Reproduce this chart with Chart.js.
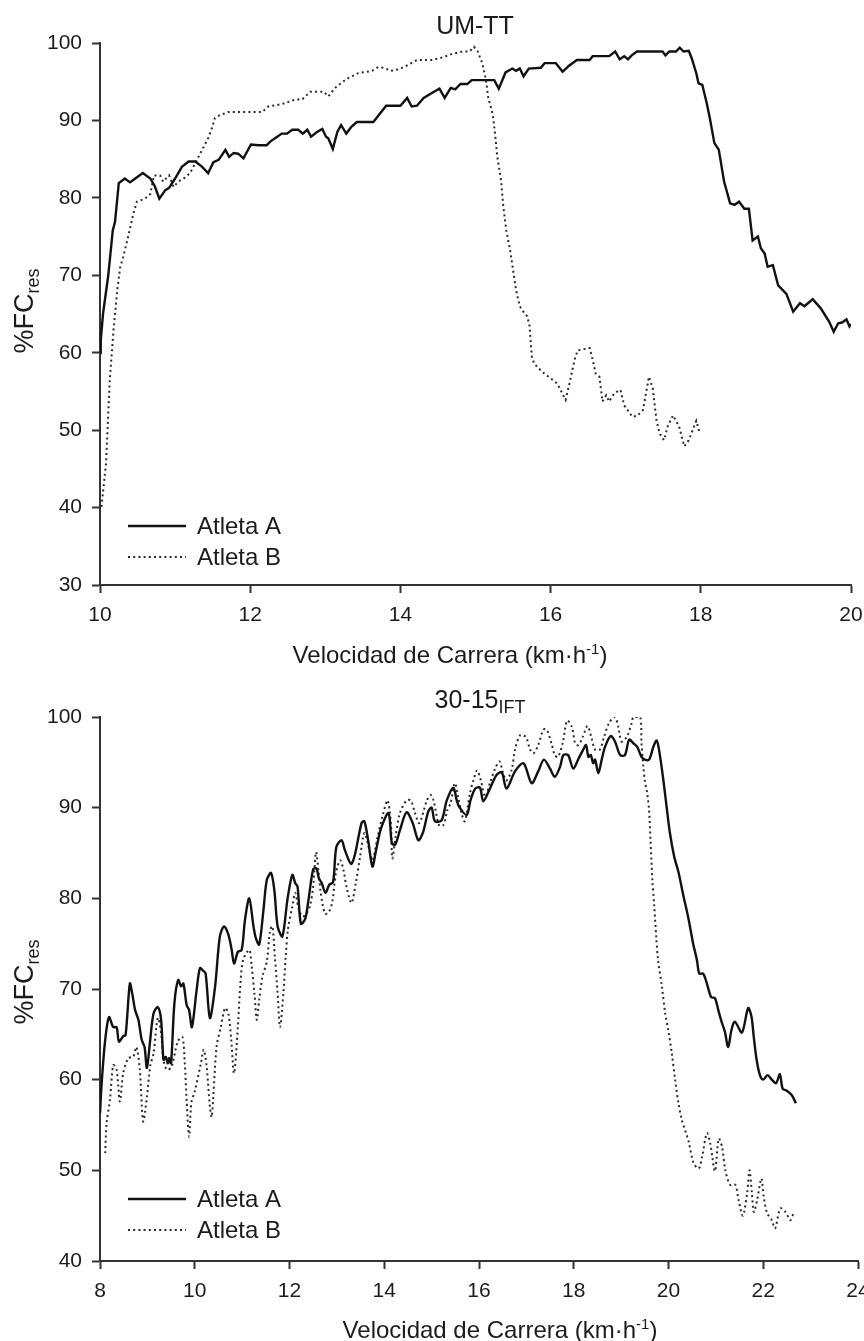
<!DOCTYPE html>
<html>
<head>
<meta charset="utf-8">
<script src="https://cdn.jsdelivr.net/npm/chart.js"></script>
<style>
  html, body { margin: 0; padding: 0; background: #fff; overflow: hidden; }
  canvas { display: block; }
</style>
</head>
<body>
<canvas id="umtt" width="900" height="670"></canvas>
<canvas id="ift" width="900" height="671"></canvas>
<script>
// UM-TT, athlete A
const umttSpeedA = [10.00,10.01,10.04,10.11,10.17,10.20,10.25,10.33,10.40,10.47,
  10.57,10.67,10.73,10.79,10.87,10.92,11.00,11.09,11.18,11.27,
  11.36,11.44,11.51,11.58,11.67,11.72,11.78,11.84,11.91,12.01,
  12.11,12.22,12.27,12.36,12.42,12.49,12.56,12.64,12.70,12.76,
  12.81,12.89,12.96,13.01,13.04,13.10,13.16,13.21,13.28,13.35,
  13.42,13.64,13.81,14.00,14.09,14.15,14.22,14.31,14.43,14.52,
  14.59,14.67,14.73,14.80,14.89,14.95,15.25,15.31,15.40,15.49,
  15.54,15.59,15.64,15.71,15.87,15.92,16.07,16.16,16.25,16.35,
  16.52,16.56,16.78,16.86,16.92,16.98,17.03,17.08,17.15,17.49,
  17.53,17.58,17.67,17.72,17.77,17.84,17.88,17.94,17.97,18.02,
  18.08,18.12,18.18,18.24,18.31,18.39,18.45,18.51,18.58,18.64,
  18.69,18.76,18.80,18.85,18.89,18.96,19.03,19.14,19.23,19.32,
  19.38,19.49,19.60,19.71,19.77,19.83,19.88,19.94,19.98,20.00];
const umttHrA = [60,61.6,65,70,75.8,76.9,81.9,82.5,82.0,82.5,
  83.2,82.5,81.5,79.9,81.0,81.3,82.5,84.0,84.7,84.7,
  84.0,83.2,84.6,84.9,86.2,85.3,85.8,85.7,85.1,86.9,
  86.8,86.8,87.3,87.9,88.3,88.3,88.8,88.8,88.3,88.8,
  87.9,88.5,88.9,87.9,87.7,86.3,88.5,89.4,88.3,89.2,
  89.8,89.8,91.9,91.9,92.9,91.8,91.9,92.9,93.6,94.1,
  92.9,94.2,94.0,94.7,94.7,95.2,95.2,94.1,96.2,96.7,
  96.4,96.7,95.7,96.7,96.8,97.4,97.4,96.3,97.1,97.8,
  97.8,98.3,98.3,98.9,97.9,98.3,97.9,98.4,98.9,98.9,
  98.4,98.9,98.9,99.4,98.9,99.0,98.0,96.1,94.8,94.6,
  92.2,90.3,87.1,86.2,82.1,79.3,79.1,79.5,78.6,78.6,
  74.5,75.0,73.5,72.8,71.1,71.3,68.7,67.6,65.3,66.4,
  66.0,66.9,65.7,64.0,62.7,63.8,63.9,64.3,63.4,63.7];

// UM-TT, athlete B
const umttSpeedB = [10.02,10.08,10.10,10.13,10.18,10.23,10.27,10.31,10.38,10.44,
  10.49,10.60,10.67,10.72,10.80,10.84,10.92,10.98,11.04,11.13,
  11.20,11.27,11.36,11.44,11.49,11.53,11.60,11.71,12.16,12.24,
  12.42,12.60,12.69,12.80,12.98,13.04,13.13,13.22,13.31,13.44,
  13.62,13.71,13.78,13.87,13.98,14.11,14.22,14.43,14.58,14.69,
  14.83,14.92,14.98,15.03,15.09,15.14,15.17,15.23,15.26,15.29,
  15.34,15.37,15.41,15.46,15.50,15.54,15.59,15.65,15.69,15.72,
  15.75,15.78,15.89,16.00,16.09,16.20,16.25,16.32,16.36,16.52,
  16.56,16.60,16.65,16.69,16.74,16.78,16.85,16.93,16.98,17.09,
  17.16,17.23,17.31,17.36,17.41,17.45,17.51,17.56,17.63,17.71,
  17.78,17.84,17.94,17.98];
const umttHrB = [40.1,45.7,50.0,56.5,62.9,68.1,71.1,72.4,75.2,77.8,
  79.5,79.9,80.5,82.9,82.9,82.1,82.9,81.4,82.1,82.6,
  83.2,84.5,86.2,87.7,89.0,90.3,90.7,91.1,91.1,91.8,
  92.1,92.7,92.7,93.7,93.7,93.1,94.2,94.9,95.5,96.1,
  96.4,96.9,96.8,96.4,96.6,97.2,97.8,97.8,98.2,98.6,
  98.9,98.9,99.5,98.9,97.4,95.2,92.9,90.8,88.3,85.3,
  82.3,78.9,75.8,73.3,70.7,68.1,66.0,65.1,64.7,63.4,
  59.5,58.6,57.5,56.7,56.0,53.9,56.0,59.1,60.3,60.6,
  59.1,57.3,56.9,53.7,54.5,53.7,54.8,55.2,53.2,51.7,
  51.9,52.6,56.9,55.4,51.3,49.6,48.7,50.5,51.9,50.5,
  47.9,48.7,51.2,49.8];

// 30-15 IFT, athlete A
const iftSpeedA = [8.00,8.04,8.11,8.19,8.28,8.35,8.40,8.49,8.54,8.63,
  8.68,8.74,8.81,8.88,8.94,8.99,9.06,9.13,9.22,9.29,
  9.34,9.39,9.43,9.46,9.50,9.57,9.65,9.71,9.76,9.83,
  9.88,9.94,10.04,10.11,10.18,10.23,10.32,10.43,10.53,10.62,
  10.71,10.78,10.83,10.91,10.99,11.06,11.15,11.24,11.29,11.36,
  11.45,11.52,11.61,11.68,11.75,11.85,11.96,12.06,12.12,12.17,
  12.24,12.33,12.40,12.50,12.57,12.62,12.68,12.76,12.84,12.92,
  12.99,13.10,13.17,13.30,13.38,13.52,13.58,13.66,13.75,13.82,
  13.93,14.09,14.16,14.23,14.33,14.47,14.60,14.72,14.82,14.93,
  15.00,15.07,15.21,15.32,15.46,15.53,15.58,15.74,15.82,15.92,
  16.02,16.09,16.23,16.37,16.48,16.58,16.76,16.94,17.11,17.25,
  17.37,17.50,17.60,17.71,17.78,17.88,17.99,18.10,18.20,18.26,
  18.31,18.36,18.41,18.45,18.52,18.59,18.66,18.78,18.87,18.98,
  19.08,19.17,19.26,19.34,19.43,19.50,19.59,19.68,19.75,19.80,
  19.89,19.96,20.03,20.12,20.21,20.31,20.42,20.52,20.60,20.65,
  20.73,20.81,20.90,20.98,21.05,21.12,21.19,21.26,21.33,21.40,
  21.55,21.68,21.75,21.80,21.86,21.93,22.00,22.09,22.18,22.27,
  22.35,22.41,22.49,22.60,22.69];
const iftHrA = [56.3,60.0,64.4,66.9,65.8,65.8,64.2,64.8,64.9,70.6,
  69.5,67.7,66.6,64.4,63.6,61.3,64.4,67.3,68.0,66.6,
  62.2,62.5,61.8,62.4,61.8,68.4,71.0,70.3,70.6,68.2,
  67.7,65.8,69.9,72.3,72.0,71.7,66.8,70.3,75.8,76.9,
  76.0,74.3,72.8,74.1,74.3,77.6,80.0,76.9,75.6,74.9,
  78.7,82.0,82.8,80.9,76.9,75.8,80.0,82.6,81.7,81.3,
  77.2,77.7,79.8,83.2,83.3,82.2,81.7,80.6,81.5,81.8,
  85.7,86.4,85.3,83.8,84.8,88.3,88.5,86.4,83.5,85.1,
  87.7,89.4,86.1,85.9,87.5,89.5,88.3,86.4,87.3,89.6,
  90.0,88.5,88.6,90.8,92.2,90.8,90.1,89.2,90.8,92.1,
  92.2,90.7,92.1,93.6,93.9,92.1,94.0,94.9,92.7,94.0,
  95.3,94.3,93.4,94.5,95.8,95.8,94.3,95.4,96.4,96.9,
  95.6,95.8,94.9,95.3,93.8,95.3,96.7,97.9,97.3,95.8,
  95.8,97.5,97.1,96.7,95.6,95.3,95.3,96.7,97.4,96.4,
  93.1,90.1,87.2,84.6,82.9,80.4,77.8,75.0,73.2,71.7,
  71.7,70.6,69.1,69.0,67.7,66.4,65.3,63.6,65.5,66.4,
  65.2,67.9,67.0,64.7,62.2,60.5,60.0,60.5,60.0,59.6,
  60.6,59.0,58.8,58.3,57.4];

// 30-15 IFT, athlete B
const iftSpeedB = [8.11,8.14,8.21,8.28,8.35,8.42,8.49,8.60,8.70,8.77,
  8.84,8.91,8.99,9.06,9.13,9.22,9.29,9.34,9.41,9.51,
  9.64,9.74,9.79,9.83,9.88,9.93,10.00,10.13,10.19,10.25,
  10.32,10.36,10.46,10.55,10.64,10.71,10.77,10.83,10.91,10.96,
  11.02,11.15,11.20,11.26,11.31,11.36,11.43,11.52,11.59,11.64,
  11.69,11.75,11.80,11.87,11.92,11.97,12.06,12.12,12.19,12.27,
  12.34,12.43,12.50,12.56,12.61,12.66,12.75,12.83,12.90,12.98,
  13.07,13.14,13.21,13.31,13.40,13.49,13.58,13.65,13.75,13.86,
  13.98,14.07,14.14,14.17,14.24,14.33,14.47,14.56,14.65,14.74,
  14.90,14.98,15.04,15.16,15.25,15.33,15.40,15.49,15.56,15.63,
  15.70,15.81,15.88,15.96,16.04,16.13,16.23,16.34,16.43,16.51,
  16.58,16.69,16.76,16.87,16.99,17.08,17.15,17.25,17.36,17.43,
  17.53,17.60,17.67,17.77,17.86,17.96,18.03,18.10,18.19,18.29,
  18.38,18.45,18.55,18.64,18.75,18.87,18.94,19.01,19.12,19.22,
  19.26,19.40,19.43,19.47,19.50,19.55,19.59,19.62,19.66,19.70,
  19.74,19.78,19.86,19.93,20.00,20.07,20.14,20.21,20.28,20.37,
  20.42,20.53,20.64,20.71,20.81,20.88,20.98,21.06,21.13,21.20,
  21.30,21.41,21.48,21.57,21.66,21.71,21.76,21.80,21.87,21.96,
  22.01,22.08,22.18,22.25,22.36,22.47,22.57,22.64];
const iftHrB = [51.9,55.2,57.8,61.6,61.1,57.6,60.7,62.4,62.5,63.6,
  61.1,55.4,58.1,61.5,62.9,66.8,65.1,62.2,61.1,61.4,
  64.2,64.7,61.8,57.6,53.7,57.5,58.7,61.8,63.3,61.5,
  57.0,55.9,63.6,65.8,67.9,67.3,64.4,60.7,65.8,70.3,
  73.2,74.3,72.6,69.5,66.6,68.8,71.4,73.0,76.5,76.9,
  73.6,69.5,65.8,69.5,73.6,76.7,79.1,80.6,78.9,78.0,
  78.2,79.1,81.3,85.1,83.1,80.6,78.3,78.5,79.5,82.8,
  84.2,83.1,81.1,79.5,81.7,84.6,87.2,86.1,84.2,86.8,
  89.4,90.8,88.3,84.4,86.8,89.4,90.8,90.8,89.4,88.3,
  90.8,91.4,90.8,88.0,88.1,89.7,90.5,92.7,91.2,89.4,
  88.5,91.6,93.0,94.1,93.0,91.2,92.7,94.3,95.1,93.8,
  93.0,94.2,96.4,98.0,97.8,96.4,96.0,96.9,98.6,98.6,
  97.1,95.8,95.6,97.2,99.6,98.9,97.1,96.9,97.8,99.0,
  97.6,96.4,96.4,97.8,99.4,100.0,98.9,97.3,97.8,99.3,
  100.0,100.0,97.1,94.5,93.0,91.6,89.7,86.4,82.0,79.1,
  75.8,73.2,70.3,67.3,65.3,62.9,60.0,57.4,55.6,54.1,
  53.3,50.8,50.2,51.5,54.1,53.0,49.9,53.5,52.6,50.0,
  48.4,48.4,46.7,45.0,47.5,50.0,47.5,45.4,46.7,49.1,
  47.1,45.3,44.5,43.6,45.8,45.4,44.5,45.3];

const seriesNames = ['Atleta A', 'Atleta B'];

const FONT = "'Liberation Sans', Arial, sans-serif";
const INK = '#1b1b1b';

function pairs(xs, ys) {
  return xs.map((x, i) => ({ x: x, y: ys[i] }));
}

// draw text made of runs: [{t, size, dy}]
function runWidth(ctx, runs) {
  let w = 0;
  runs.forEach(r => { ctx.font = r.size + 'px ' + FONT; w += ctx.measureText(r.t).width; });
  return w;
}
function drawRuns(ctx, x, y, runs) {
  runs.forEach(r => {
    ctx.font = r.size + 'px ' + FONT;
    ctx.fillText(r.t, x, y + (r.dy || 0));
    x += ctx.measureText(r.t).width;
  });
}

const textPlugin = {
  id: 'texts',
  afterDraw(chart, args, o) {
    const ctx = chart.ctx;
    ctx.save();
    ctx.fillStyle = INK;
    ctx.textAlign = 'left';
    ctx.textBaseline = 'alphabetic';

    // panel title
    const tw = runWidth(ctx, o.title);
    drawRuns(ctx, o.titleX - tw / 2, o.titleY, o.title);

    // x axis title
    const xw = runWidth(ctx, o.xTitle);
    drawRuns(ctx, o.xTitleX - xw / 2, o.xTitleY, o.xTitle);

    // y axis title (rotated)
    ctx.save();
    ctx.translate(o.yTitleX, o.yTitleY);
    ctx.rotate(-Math.PI / 2);
    const yw = runWidth(ctx, o.yTitle);
    drawRuns(ctx, -yw / 2, 0, o.yTitle);
    ctx.restore();

    // legend inside the plot
    const lg = o.legend;
    chart.data.datasets.forEach((ds, i) => {
      const y = lg.y + i * lg.gap;
      ctx.save();
      ctx.strokeStyle = ds.borderColor;
      ctx.lineWidth = ds.borderWidth;
      ctx.setLineDash(ds.borderDash || []);
      ctx.beginPath();
      ctx.moveTo(lg.x, y);
      ctx.lineTo(lg.x + lg.len, y);
      ctx.stroke();
      ctx.restore();
      ctx.font = lg.size + 'px ' + FONT;
      ctx.textBaseline = 'middle';
      ctx.fillText(ds.label, lg.x + lg.len + 11, y + 1);
      ctx.textBaseline = 'alphabetic';
    });
    ctx.restore();
  }
};

function buildChart(id, cfg) {
  const scaleCommon = {
    type: 'linear',
    grid: { drawOnChartArea: false, drawTicks: true, tickLength: 8, tickWidth: 2, color: '#333' },
    border: { display: true, color: '#333', width: 2 },
    ticks: { color: INK, font: { family: FONT, size: 21 }, padding: 10 }
  };
  return new Chart(document.getElementById(id), {
    type: 'line',
    data: {
      datasets: [
        {
          label: seriesNames[0],
          data: pairs(cfg.speedA, cfg.hrA),
          borderColor: '#111',
          borderWidth: 2.4,
          pointRadius: 0,
          tension: cfg.tension,
          fill: false
        },
        {
          label: seriesNames[1],
          data: pairs(cfg.speedB, cfg.hrB),
          borderColor: '#2a2a2a',
          borderWidth: 2,
          borderDash: [2, 3.2],
          pointRadius: 0,
          tension: cfg.tension,
          fill: false
        }
      ]
    },
    options: {
      responsive: false,
      animation: false,
      layout: { padding: { top: cfg.padTop, right: 900 - cfg.plotRight, left: 0, bottom: 0 } },
      scales: {
        x: Object.assign({}, scaleCommon, {
          min: cfg.xMin, max: cfg.xMax,
          ticks: Object.assign({}, scaleCommon.ticks, { stepSize: 2 }),
          afterFit(scale) { scale.height = cfg.xAxisHeight; }
        }),
        y: Object.assign({}, scaleCommon, {
          min: cfg.yMin, max: cfg.yMax,
          ticks: Object.assign({}, scaleCommon.ticks, { stepSize: 10 }),
          afterFit(scale) { scale.width = 100; }
        })
      },
      plugins: {
        legend: { display: false },
        tooltip: { enabled: false },
        texts: cfg.texts
      }
    },
    plugins: [textPlugin]
  });
}

const yTitleRuns = [{ t: '%FC', size: 27 }, { t: 'res', size: 18, dy: 6 }];
const xTitleRuns = [{ t: 'Velocidad de Carrera (km\u00B7h', size: 24 }, { t: '-1', size: 15, dy: -9 }, { t: ')', size: 24 }];

buildChart('umtt', {
  speedA: umttSpeedA, hrA: umttHrA, speedB: umttSpeedB, hrB: umttHrB,
  xMin: 10, xMax: 20, yMin: 30, yMax: 100,
  padTop: 43, plotRight: 851, xAxisHeight: 85, tension: 0,
  texts: {
    title: [{ t: 'UM-TT', size: 25 }], titleX: 475, titleY: 34,
    xTitle: xTitleRuns, xTitleX: 450, xTitleY: 663,
    yTitle: yTitleRuns, yTitleX: 33, yTitleY: 311,
    legend: { x: 128, y: 526, gap: 31, len: 58, size: 24 }
  }
});

buildChart('ift', {
  speedA: iftSpeedA, hrA: iftHrA, speedB: iftSpeedB, hrB: iftHrB,
  xMin: 8, xMax: 24, yMin: 40, yMax: 100,
  padTop: 47, plotRight: 858, xAxisHeight: 80, tension: 0.3,
  texts: {
    title: [{ t: '30-15', size: 25 }, { t: 'IFT', size: 18, dy: 5 }], titleX: 480, titleY: 38,
    xTitle: xTitleRuns, xTitleX: 500, xTitleY: 668,
    yTitle: yTitleRuns, yTitleX: 33, yTitleY: 312,
    legend: { x: 128, y: 529, gap: 31, len: 58, size: 24 }
  }
});
</script>
</body>
</html>
